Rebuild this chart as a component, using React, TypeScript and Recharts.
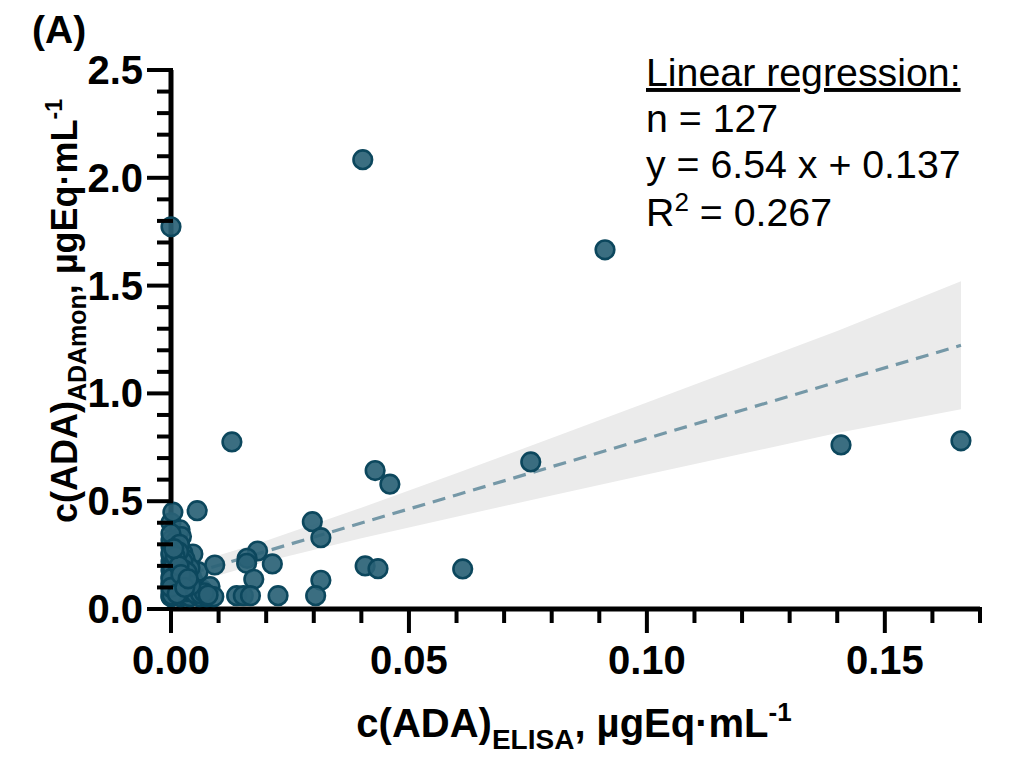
import React from 'react';
import { ComposedChart, Scatter, Line, Area, XAxis, YAxis, Customized } from 'recharts';

// measured points: c(ADA) ELISA (x) vs ADAmon (y), ugEq/mL
const pointX = [
    0.0403, 0.0, 0.0912, 0.0128, 0.0756, 0.1408, 0.166, 0.0429, 0.046, 0.0297,
    0.0315, 0.0182, 0.016, 0.0159, 0.0213, 0.0408, 0.0435, 0.0613, 0.0174, 0.0315,
    0.0138, 0.0152, 0.0167, 0.0225, 0.0304,
    0.0, 0.0004, 0.0019, 0.0022, 0.0, 0.001, 0.0, 0.0015, 0.0, 0.002,
    0.0005, 0.0, 0.0015, 0.0, 0.001, 0.002, 0.0, 0.0005, 0.0015, 0.0,
    0.001, 0.0, 0.002, 0.003, 0.0035, 0.003, 0.0035, 0.004, 0.0046, 0.0043,
    0.005, 0.0055, 0.0057, 0.006, 0.0065, 0.0075, 0.0082, 0.0092, 0.009, 0.0025,
    0.003, 0.004,
    0.0, 0.0008, 0.0012, 0.0, 0.0018, 0.0025, 0.0028, 0.0006, 0.0, 0.0012,
    0.0022, 0.0032, 0.0038, 0.0045, 0.0052, 0.0062, 0.007, 0.0078, 0.0, 0.001,
    0.0004, 0.0016, 0.0026, 0.0034, 0.0042,
    0.0, 0.0003, 0.0007, 0.0011, 0.0, 0.0014, 0.0009, 0.0002, 0.0017, 0.0,
    0.0021, 0.0006, 0.0013, 0.0029, 0.0036,
];
const pointY = [
    2.084, 1.773, 1.666, 0.775, 0.682, 0.761, 0.78, 0.642, 0.579, 0.405,
    0.331, 0.269, 0.235, 0.212, 0.209, 0.2, 0.187, 0.186, 0.138, 0.133,
    0.062, 0.062, 0.062, 0.062, 0.062,
    0.4, 0.449, 0.367, 0.336, 0.29, 0.27, 0.25, 0.24, 0.22, 0.21,
    0.2, 0.18, 0.17, 0.15, 0.14, 0.13, 0.12, 0.1, 0.09, 0.08,
    0.07, 0.057, 0.057, 0.06, 0.1, 0.15, 0.2, 0.057, 0.255, 0.15,
    0.12, 0.456, 0.173, 0.057, 0.09, 0.057, 0.104, 0.204, 0.057, 0.26,
    0.23, 0.19,
    0.32, 0.31, 0.28, 0.35, 0.3, 0.22, 0.18, 0.16, 0.11, 0.19,
    0.095, 0.08, 0.12, 0.08, 0.07, 0.07, 0.075, 0.065, 0.06, 0.21,
    0.23, 0.265, 0.13, 0.17, 0.11,
    0.26, 0.19, 0.15, 0.12, 0.14, 0.085, 0.245, 0.065, 0.2, 0.1,
    0.16, 0.28, 0.07, 0.1, 0.14,
];

// regression line and its confidence band
const fitX = [0, 0.02, 0.04, 0.06, 0.08, 0.1, 0.12, 0.14, 0.166];
const fitY = [0.137, 0.268, 0.399, 0.529, 0.66, 0.791, 0.922, 1.053, 1.223];
const bandLow = [0.092, 0.22, 0.328, 0.428, 0.527, 0.624, 0.72, 0.816, 0.926];
const bandHigh = [0.182, 0.316, 0.47, 0.63, 0.793, 0.958, 1.124, 1.29, 1.52];

const xTicks = [0, 0.01, 0.02, 0.03, 0.04, 0.05, 0.06, 0.07, 0.08, 0.09, 0.1, 0.11, 0.12, 0.13, 0.14, 0.15, 0.16, 0.17];
const xLabels = ['0.00', '0.05', '0.10', '0.15'];
const yTicks = [0, 0.1, 0.2, 0.3, 0.4, 0.5, 0.6, 0.7, 0.8, 0.9, 1, 1.1, 1.2, 1.3, 1.4, 1.5, 1.6, 1.7, 1.8, 1.9, 2, 2.1, 2.2, 2.3, 2.4, 2.5];
const yLabels = ['0.0', '0.5', '1.0', '1.5', '2.0', '2.5'];

const FONT = '"Liberation Sans", Arial, Helvetica, sans-serif';

const scatterData = pointX.map((x, i) => ({ x, y: pointY[i] }));
const fitData = fitX.map((x, i) => ({ x, fit: fitY[i], band: [bandLow[i], bandHigh[i]] }));

function XTick(props: any) {
    const { x, y, index } = props;
    const major = index % 5 === 0;
    return (
        <g>
            <line x1={x} x2={x} y1={y - 2} y2={y + (major ? 24 : 14)} stroke="#000" strokeWidth={4} />
            {major && (
                <text x={x} y={y + 65} textAnchor="middle" fontSize={40} fontWeight="bold" fontFamily={FONT} fill="#000">
                    {xLabels[index / 5]}
                </text>
            )}
        </g>
    );
}

function YTick(props: any) {
    const { x, y, index } = props;
    const major = index % 5 === 0;
    return (
        <g>
            <line x1={x + 2} x2={x - (major ? 24 : 14)} y1={y} y2={y} stroke="#000" strokeWidth={4} />
            {major && (
                <text x={x - 28} y={y + 14} textAnchor="end" fontSize={40} fontWeight="bold" fontFamily={FONT} fill="#000">
                    {yLabels[index / 5]}
                </text>
            )}
        </g>
    );
}

const renderDot = (p: any) => (
    <circle cx={p.cx} cy={p.cy} r={9.3} fill="#2a6276" fillOpacity={0.92} stroke="#0c475d" strokeWidth={2.6} />
);

// texts: panel letter, regression box, axis titles
const Texts = () => (
    <g fontFamily={FONT} fill="#000">
        <text x={32} y={43} fontSize={39} fontWeight="bold">(A)</text>
        <g fontSize={39.3}>
            <text x={646} y={86} textDecoration="underline">Linear regression:</text>
            <text x={646} y={132}>n = 127</text>
            <text x={646} y={178}>y = 6.54 x + 0.137</text>
            <text x={646} y={226}>
                R<tspan fontSize={26} dy={-15}>2</tspan><tspan dy={15}> = 0.267</tspan>
            </text>
        </g>
        <text x={574} y={737} textAnchor="middle" fontSize={40} fontWeight="bold">
            c(ADA)<tspan fontSize={28} dy={12}>ELISA</tspan>
            <tspan dy={-12}>, µgEq·mL</tspan>
            <tspan fontSize={26} dy={-16}>-1</tspan>
        </text>
        <text x={77} y={311} transform="rotate(-90 77 311)" textAnchor="middle" fontSize={36} fontWeight="bold">
            c(ADA)<tspan fontSize={25} dy={9}>ADAmon</tspan>
            <tspan dy={-9}>, µgEq·mL</tspan>
            <tspan fontSize={23} dy={-15}>-1</tspan>
        </text>
    </g>
);

export default function App() {
    return (
        <div style={{ position: 'absolute', left: 0, top: 0, width: 1016, height: 758, background: '#fff' }}>
            <ComposedChart width={1016} height={758} data={fitData} margin={{ top: 70, right: 36, left: 71, bottom: 49 }}>
                <XAxis
                    dataKey="x"
                    type="number"
                    domain={[0, 0.17]}
                    ticks={xTicks}
                    interval={0}
                    height={100}
                    tickSize={0}
                    tickMargin={0}
                    tickLine={false}
                    axisLine={{ stroke: '#000', strokeWidth: 5 }}
                    tick={<XTick />}
                />
                <YAxis
                    type="number"
                    domain={[0, 2.5]}
                    ticks={yTicks}
                    interval={0}
                    width={100}
                    tickSize={0}
                    tickMargin={0}
                    tickLine={false}
                    axisLine={{ stroke: '#000', strokeWidth: 5 }}
                    tick={<YTick />}
                />
                <Area type="linear" dataKey="band" stroke="none" fill="#ebebeb" fillOpacity={1} isAnimationActive={false} />
                <Line type="linear" dataKey="fit" stroke="#7598a7" strokeWidth={3.2} strokeDasharray="13 8" dot={false} isAnimationActive={false} />
                <Scatter data={scatterData} dataKey="y" shape={renderDot} isAnimationActive={false} />
                <Customized component={Texts} />
            </ComposedChart>
        </div>
    );
}
